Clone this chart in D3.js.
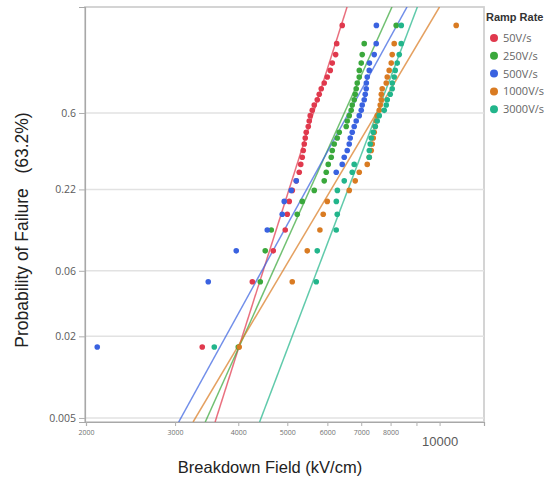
<!DOCTYPE html>
<html>
<head>
<meta charset="utf-8">
<script src="https://cdn.jsdelivr.net/npm/d3@7"></script>
<style>
  html, body { margin: 0; padding: 0; background: #fff; }
  svg { display: block; }
</style>
</head>
<body>
<svg id="chart" width="557" height="479"></svg>
<script>
// Ramp-rate groups and their colours
const rampRates = ["50V/s", "250V/s", "500V/s", "1000V/s", "3000V/s"];
const rampColors = ["#e0394d", "#3aa83c", "#3a62e0", "#d97b22", "#22b58b"];

// Breakdown field (kV/cm) per sample, sorted ascending, one array per ramp rate
const field50 = [3395, 4264, 4690, 4953, 4999, 5044, 5114, 5208, 5279, 5315,
                 5352, 5376, 5401, 5425, 5450, 5500, 5525, 5550, 5601, 5652,
                 5730, 5782, 5835, 5915, 5997, 6079, 6135, 6230, 6260, 6420];
const field250 = [4000, 4421, 4522, 4648, 5231, 5352, 5652, 5915, 5969, 6024,
                  6107, 6135, 6191, 6276, 6333, 6538, 6568, 6628, 6688, 6719,
                  6780, 6811, 6842, 6874, 6937, 6940, 7000, 7032, 7096, 8208];
const field500 = [2105, 3489, 3963, 4564, 4886, 4931, 5090, 5208, 6247, 6420,
                  6479, 6568, 6628, 6658, 6719, 6780, 6842, 6937, 7000, 7032,
                  7096, 7129, 7161, 7165, 7194, 7260, 7265, 7426, 7494, 7500];
const field1000 = [4017, 5114, 5475, 5800, 5888, 5997, 6628, 6811, 6937, 7194,
                   7260, 7326, 7359, 7393, 7426, 7461, 7494, 7529, 7598, 7632,
                   7667, 7670, 7702, 7844, 7880, 7951, 8024, 8060, 8134, 10786];
const field3000 = [3586, 5704, 5730, 6247, 6276, 6250, 6280, 6479, 6719, 6780,
                   7260, 7262, 7292, 7326, 7393, 7461, 7529, 7598, 7772, 7844,
                   7880, 7987, 8060, 8062, 8134, 8171, 8246, 8322, 8397, 8400];
const fieldSeries = [field50, field250, field500, field1000, field3000];

// Plotting positions (failure probability) by rank
const plotPosition = [0.0167, 0.05, 0.0833, 0.1167, 0.15, 0.1833, 0.2167, 0.25, 0.2833, 0.3167,
                      0.35, 0.3833, 0.4167, 0.45, 0.4833, 0.5167, 0.55, 0.5833, 0.6167, 0.65,
                      0.6833, 0.7167, 0.75, 0.7833, 0.8167, 0.85, 0.8833, 0.9167, 0.95, 0.9833];

// Weibull fit per ramp rate: shape (beta) and scale (eta, kV/cm)
const fitShape = [11.8, 8.34, 6.82, 6.32, 9.87];
const fitScale = [5671, 6549, 6697, 7610, 7590];

// Axis ticks
const yTickValues = [0.005, 0.02, 0.06, 0.22, 0.6];
const yTickLabels = ["0.005", "0.02", "0.06", "0.22", "0.6"];
const xTickValues = [2000, 3000, 4000, 5000, 6000, 7000, 8000, 9000, 10000];
const xTickLabels = ["2000", "3000", "4000", "5000", "6000", "7000", "8000", "", "10000"];

// Weibull probability transform
const weib = p => Math.log(-Math.log(1 - p));

const svg = d3.select("#chart");
const plotL = 85, plotR = 484, plotT = 7, plotB = 422;

const x = d3.scaleLog().domain([2000, 12240]).range([86, plotR]);
const y = d3.scaleLinear().domain([-5.365, 1.723]).range([plotB, plotT]);

// Frame
svg.append("rect")
  .attr("x", plotL).attr("y", plotT)
  .attr("width", plotR - plotL).attr("height", plotB - plotT)
  .attr("fill", "#fff").attr("stroke", "#d0d0d0").attr("stroke-width", 1.8);

// Horizontal grid lines
svg.append("g").selectAll("line").data(yTickValues).join("line")
  .attr("x1", plotL).attr("x2", plotR)
  .attr("y1", d => y(weib(d))).attr("y2", d => y(weib(d)))
  .attr("stroke", "#e2e2e2").attr("stroke-width", 1.5);

// Y axis
const yAxis = d3.axisLeft(y)
  .tickValues(yTickValues.map(weib))
  .tickFormat((d, i) => yTickLabels[i])
  .tickSize(6).tickPadding(3);
const gy = svg.append("g").attr("transform", `translate(${plotL},0)`).call(yAxis);
gy.select(".domain").attr("stroke", "#a8a8a8").attr("stroke-width", 1.2);
gy.selectAll(".tick line").attr("stroke", "#b0b0b0");
gy.selectAll(".tick text")
  .attr("fill", "#5a5a5a").attr("font-size", 10.5)
  .attr("font-family", "'Open Sans', 'DejaVu Sans', sans-serif");

// X axis
const xAxis = d3.axisBottom(x)
  .tickValues(xTickValues)
  .tickFormat((d, i) => xTickLabels[i])
  .tickSize(4).tickPadding(4);
const gx = svg.append("g").attr("transform", `translate(0,${plotB})`).call(xAxis);
gx.select(".domain").attr("stroke", "#a8a8a8").attr("stroke-width", 1.2);
gx.selectAll(".tick line").attr("stroke", "#b0b0b0");
gx.selectAll(".tick text")
  .attr("fill", "#707070").attr("font-size", 7)
  .attr("font-family", "'Open Sans', 'DejaVu Sans', sans-serif");
gx.selectAll(".tick text").filter(d => d === 10000)
  .attr("font-size", 13).attr("fill", "#5a5a5a").attr("dy", "1.25em")
  .attr("font-family", "'Liberation Sans', Arial, sans-serif");

// Clip region for fit lines
svg.append("clipPath").attr("id", "plotClip")
  .append("rect").attr("x", plotL).attr("y", plotT)
  .attr("width", plotR - plotL).attr("height", plotB - plotT);

// Fitted Weibull lines
const wRange = y.domain();
const fitLine = d3.line().x(d => x(d[0])).y(d => y(d[1]));
const gFit = svg.append("g").attr("clip-path", "url(#plotClip)");
rampRates.forEach((r, k) => {
  const pts = wRange.map(w => [fitScale[k] * Math.exp(w / fitShape[k]), w]);
  gFit.append("path")
    .attr("d", fitLine(pts))
    .attr("fill", "none")
    .attr("stroke", rampColors[k])
    .attr("stroke-opacity", 0.72)
    .attr("stroke-width", 1.5);
});

// Data points
const gPts = svg.append("g");
fieldSeries.forEach((vals, k) => {
  gPts.append("g").selectAll("circle").data(vals).join("circle")
    .attr("cx", d => x(d))
    .attr("cy", (d, i) => y(weib(plotPosition[i])))
    .attr("r", 2.8)
    .attr("fill", rampColors[k]);
});

// Legend
const legend = svg.append("g");
legend.append("text")
  .attr("x", 486).attr("y", 21)
  .attr("font-size", 11).attr("font-weight", "bold")
  .attr("fill", "#333")
  .attr("font-family", "'Liberation Sans Narrow', 'Liberation Sans', Arial, sans-serif")
  .text("Ramp Rate");
rampRates.forEach((r, k) => {
  const ly = 38 + k * 17.8;
  legend.append("circle").attr("cx", 494).attr("cy", ly).attr("r", 4).attr("fill", rampColors[k]);
  legend.append("text")
    .attr("x", 503).attr("y", ly + 4)
    .attr("font-size", 11).attr("fill", "#666")
    .attr("font-family", "'Open Sans', 'DejaVu Sans', sans-serif")
    .text(r);
});

// Axis titles
svg.append("text")
  .attr("x", 270).attr("y", 473)
  .attr("text-anchor", "middle")
  .attr("font-size", 16.5).attr("fill", "#222")
  .attr("font-family", "'Liberation Sans', Arial, sans-serif")
  .text("Breakdown Field (kV/cm)");
svg.append("text")
  .attr("transform", "translate(28,230) rotate(-90)")
  .attr("text-anchor", "middle")
  .attr("font-size", 17.5).attr("fill", "#222")
  .attr("font-family", "'Liberation Sans', Arial, sans-serif")
  .attr("xml:space", "preserve")
  .text("Probability of Failure   (63.2%)");
</script>
</body>
</html>
